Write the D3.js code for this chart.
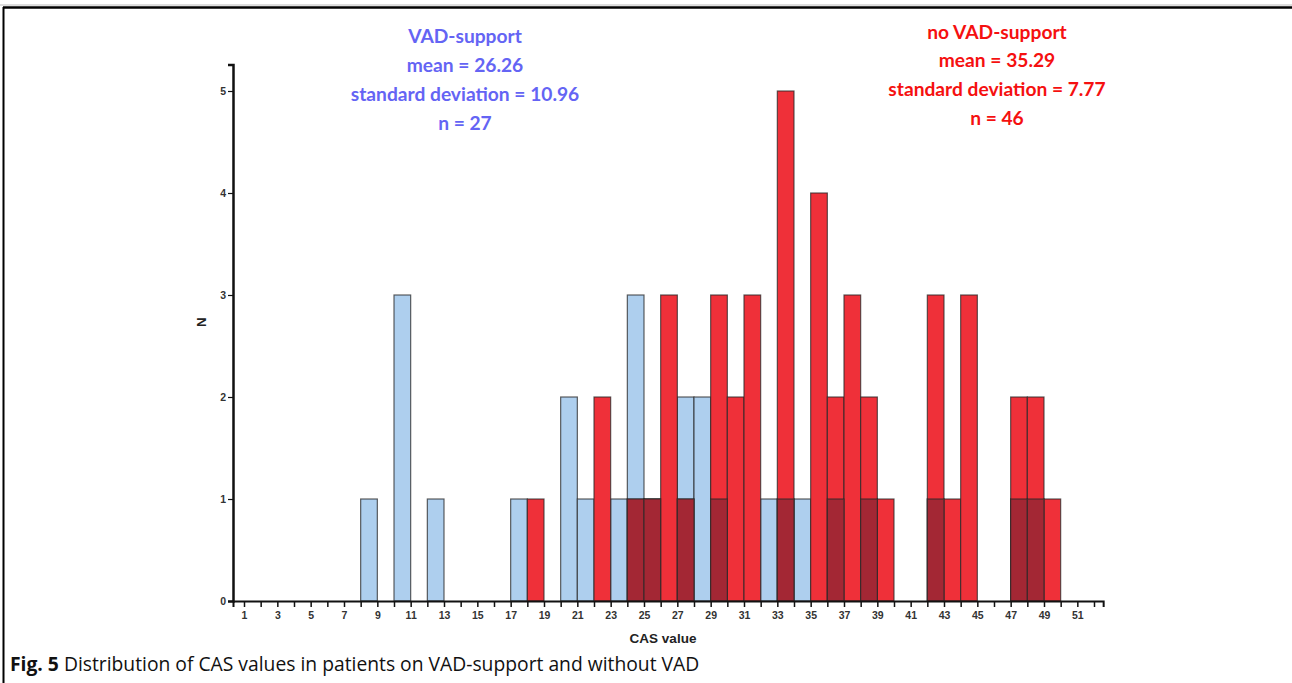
<!DOCTYPE html>
<html>
<head>
<meta charset="utf-8">
<script src="https://cdn.jsdelivr.net/npm/d3@7"></script>
<style>
  html, body { margin: 0; padding: 0; background: #fff; }
  svg { display: block; }
</style>
</head>
<body>
<svg id="chart" width="1292" height="683"></svg>
<script>
// ---- data (bin = CAS value interval [start, start+1]) ----
const binStarts   = [8, 10, 12, 17, 18, 20, 21, 22, 23, 24, 25, 26, 27, 28, 29, 30, 31, 32, 33, 34, 35, 36, 37, 38, 39, 42, 43, 44, 47, 48, 49];
const vadCounts   = [1, 3, 1, 1, 0, 2, 1, 0, 1, 3, 1, 0, 2, 2, 1, 0, 0, 1, 1, 1, 0, 1, 0, 1, 0, 1, 0, 0, 1, 1, 0];
const noVadCounts = [0, 0, 0, 0, 1, 0, 0, 2, 0, 1, 1, 3, 1, 0, 3, 2, 3, 0, 5, 0, 4, 2, 3, 2, 1, 3, 1, 3, 2, 2, 1];
const xTickValues = d3.range(1, 53);
const yTickValues = [0, 1, 2, 3, 4, 5];
const vadLabels   = ["VAD-support", "mean = 26.26", "standard deviation = 10.96", "n = 27"];
const noVadLabels = ["no VAD-support", "mean = 35.29", "standard deviation = 7.77", "n = 46"];
const xTitle = "CAS value";
const yTitle = "N";
const captionBold = "Fig. 5";
const captionText = " Distribution of CAS values in patients on VAD-support and without VAD";

// ---- setup ----
const svg = d3.select("#chart");
const x = d3.scaleLinear().domain([1, 51]).range([244, 1077.33]);
const y = d3.scaleLinear().domain([0, 5]).range([601, 91]);
const xMin = 0.34, xMax = 52.55, yMax = 5.26;

// frame
svg.append("line").attr("x1", 0).attr("x2", 1292).attr("y1", 5).attr("y2", 5)
  .attr("stroke", "#bbb").attr("stroke-width", 1);
svg.append("line").attr("x1", 3).attr("x2", 1292).attr("y1", 7.5).attr("y2", 7.5)
  .attr("stroke", "#000").attr("stroke-width", 2.5);
svg.append("line").attr("x1", 3.5).attr("x2", 3.5).attr("y1", 7).attr("y2", 683)
  .attr("stroke", "#000").attr("stroke-width", 2);

// bars
const rows = binStarts.map((s, i) => ({ s, b: vadCounts[i], r: noVadCounts[i], o: Math.min(vadCounts[i], noVadCounts[i]) }));
const g = svg.append("g");
function drawBars(key, fill) {
  g.selectAll(null).data(rows.filter(d => d[key] > 0)).enter().append("rect")
    .attr("x", d => x(d.s))
    .attr("width", d => x(d.s + 1) - x(d.s))
    .attr("y", d => y(d[key]))
    .attr("height", d => y(0) - y(d[key]))
    .attr("fill", fill)
    .attr("stroke", "#2a2a2a")
    .attr("stroke-opacity", 0.75)
    .attr("stroke-width", 1.2);
}
drawBars("b", "#aecfee");
drawBars("r", "#ef3039");
drawBars("o", "#a32734");

// x axis
const xAxisScale = d3.scaleLinear().domain([xMin, xMax]).range([x(xMin), x(xMax)]);
const xAxis = svg.append("g").attr("transform", `translate(0,${y(0)})`)
  .call(d3.axisBottom(xAxisScale).tickValues(xTickValues).tickSizeOuter(0).tickSize(6)
    .tickFormat(d => d % 2 === 1 ? d : ""));
xAxis.select(".domain").attr("stroke", "#111").attr("stroke-width", 2);
xAxis.selectAll(".tick line").attr("stroke", "#111").attr("stroke-width", 1.5);
xAxis.selectAll(".tick text").attr("font-family", "Liberation Sans, Arial, sans-serif")
  .attr("font-size", 10.5).attr("font-weight", "bold").attr("fill", "#333").attr("dy", "0.85em");

// y axis
const yAxisScale = d3.scaleLinear().domain([0, yMax]).range([y(0), y(yMax)]);
const yAxis = svg.append("g").attr("transform", `translate(${x(xMin)},0)`)
  .call(d3.axisLeft(yAxisScale).tickValues(yTickValues).tickFormat(d3.format("d"))
    .tickSizeOuter(0).tickSize(5).tickPadding(2));
yAxis.select(".domain").attr("stroke", "#111").attr("stroke-width", 2.5);
yAxis.selectAll(".tick line").attr("stroke", "#111").attr("stroke-width", 1.2);
yAxis.selectAll(".tick text").attr("font-family", "Liberation Sans, Arial, sans-serif")
  .attr("font-size", 10.5).attr("font-weight", "bold").attr("fill", "#333");

// axis titles
svg.append("text").attr("x", 663).attr("y", 643).attr("text-anchor", "middle")
  .attr("font-family", "Liberation Sans, Arial, sans-serif").attr("font-size", 13.5)
  .attr("font-weight", "bold").attr("fill", "#222").text(xTitle);
svg.append("text").attr("transform", "translate(206,322) rotate(-90)").attr("text-anchor", "middle")
  .attr("font-family", "Liberation Sans, Arial, sans-serif").attr("font-size", 13.5)
  .attr("font-weight", "bold").attr("fill", "#222").text(yTitle);

// annotations
function annot(lines, cx, y0, dy, color) {
  svg.append("g").selectAll("text").data(lines).enter().append("text")
    .attr("x", cx).attr("y", (d, i) => y0 + i * dy)
    .attr("text-anchor", "middle")
    .attr("font-family", "Lato, 'Open Sans', sans-serif")
    .attr("font-size", 19.2).attr("font-weight", "bold")
    .attr("fill", color).text(d => d);
}
annot(vadLabels, 465, 42.5, 29.2, "#6464f4");
annot(noVadLabels, 997, 38.5, 28.8, "#f51010");

// caption
const cap = svg.append("text").attr("x", 10).attr("y", 671)
  .attr("font-family", "'Open Sans', sans-serif").attr("font-size", 19.3).attr("fill", "#111");
cap.append("tspan").attr("font-weight", "bold").text(captionBold);
cap.append("tspan").text(captionText);
</script>
</body>
</html>
